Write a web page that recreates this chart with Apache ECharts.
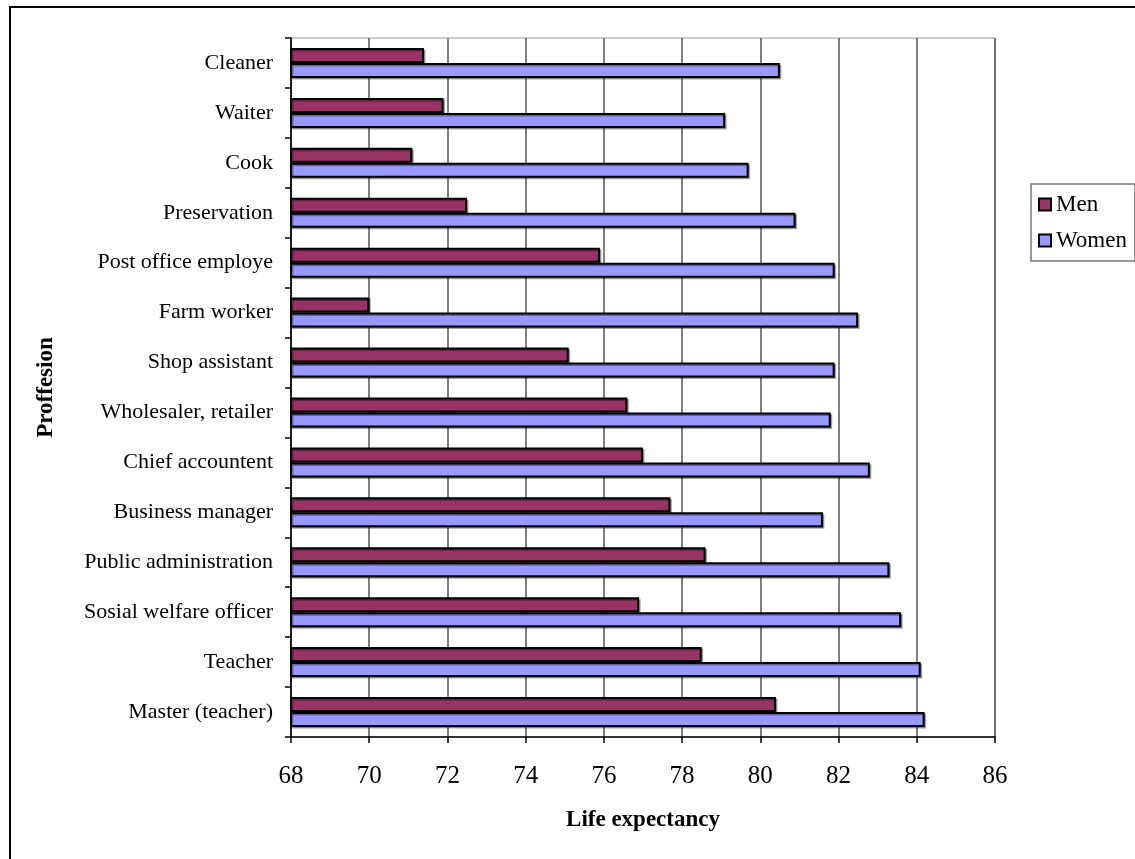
<!DOCTYPE html>
<html>
<head>
<meta charset="utf-8">
<script src="https://cdn.jsdelivr.net/npm/echarts@6/dist/echarts.min.js"></script>
<style>
  html, body { margin: 0; padding: 0; background: #ffffff; }
  #chart { width: 1135px; height: 859px; }
</style>
</head>
<body>
<div id="chart"></div>
<script>
// Professions, listed top to bottom
const professions = [
  'Cleaner', 'Waiter', 'Cook', 'Preservation', 'Post office employe',
  'Farm worker', 'Shop assistant', 'Wholesaler, retailer', 'Chief accountent',
  'Business manager', 'Public administration', 'Sosial welfare officer',
  'Teacher', 'Master (teacher)'
];

// Life expectancy (years)
const men = [71.4, 71.9, 71.1, 72.5, 75.9, 70.0, 75.1, 76.6, 77.0, 77.7, 78.6, 76.9, 78.5, 80.4];
const women = [80.5, 79.1, 79.7, 80.9, 81.9, 82.5, 81.9, 81.8, 82.8, 81.6, 83.3, 83.6, 84.1, 84.2];

const seriesNames = ['Men', 'Women'];
const axisTitleX = 'Life expectancy';
const axisTitleY = 'Proffesion';

const SERIF = "'Liberation Serif', 'Times New Roman', serif";

const chart = echarts.init(document.getElementById('chart'));

const barStyle = (color) => ({
  color: color,
  borderColor: '#000000',
  borderWidth: 2,
  shadowColor: 'rgba(0,0,0,0.35)',
  shadowOffsetX: 1.5,
  shadowOffsetY: 1.5,
  shadowBlur: 0
});

chart.setOption({
  backgroundColor: '#ffffff',
  animation: false,
  textStyle: { fontFamily: SERIF, color: '#000000' },
  graphic: [{
    type: 'rect',
    silent: true,
    z: -10,
    shape: { x: 10, y: 7, width: 1300, height: 1000 },
    style: { fill: 'none', stroke: '#000000', lineWidth: 2 }
  }],
  legend: {
    data: seriesNames,
    orient: 'vertical',
    left: 1031,
    top: 184,
    padding: [9, 8, 9, 7],
    itemWidth: 12,
    itemHeight: 12,
    itemGap: 13,
    borderColor: '#777777',
    borderWidth: 1.5,
    icon: 'rect',
    textStyle: { fontFamily: SERIF, fontSize: 23, color: '#000000' }
  },
  grid: {
    left: 291,
    top: 38,
    width: 704,
    height: 699,
    show: true,
    borderColor: '#999999',
    borderWidth: 1,
    containLabel: false
  },
  xAxis: {
    type: 'value',
    min: 68,
    max: 86,
    interval: 2,
    name: axisTitleX,
    nameLocation: 'middle',
    nameGap: 72,
    nameTextStyle: { fontFamily: SERIF, fontSize: 23, fontWeight: 'bold', color: '#000000' },
    axisLine: { show: true, lineStyle: { color: '#000000', width: 1.5 } },
    axisTick: { show: true, length: 6, lineStyle: { color: '#000000', width: 1.5 } },
    axisLabel: { fontFamily: SERIF, fontSize: 25, color: '#000000', margin: 27 },
    splitLine: { show: true, lineStyle: { color: '#555555', width: 1.5 } }
  },
  yAxis: {
    type: 'category',
    data: professions,
    inverse: true,
    name: axisTitleY,
    nameLocation: 'middle',
    nameRotate: 90,
    nameGap: 233,
    nameTextStyle: { fontFamily: SERIF, fontSize: 23, fontWeight: 'bold', color: '#000000' },
    axisLine: { show: true, lineStyle: { color: '#000000', width: 1.5 } },
    axisTick: { show: true, length: 6, lineStyle: { color: '#000000', width: 1.5 } },
    axisLabel: { fontFamily: SERIF, fontSize: 22, color: '#000000', margin: 18 },
    splitLine: { show: false }
  },
  series: [
    {
      name: seriesNames[0],
      type: 'bar',
      data: men,
      barWidth: 15,
      barGap: '0%',
      itemStyle: barStyle('#993366')
    },
    {
      name: seriesNames[1],
      type: 'bar',
      data: women,
      barWidth: 15,
      barGap: '0%',
      itemStyle: barStyle('#9999FF')
    }
  ]
});
</script>
</body>
</html>
